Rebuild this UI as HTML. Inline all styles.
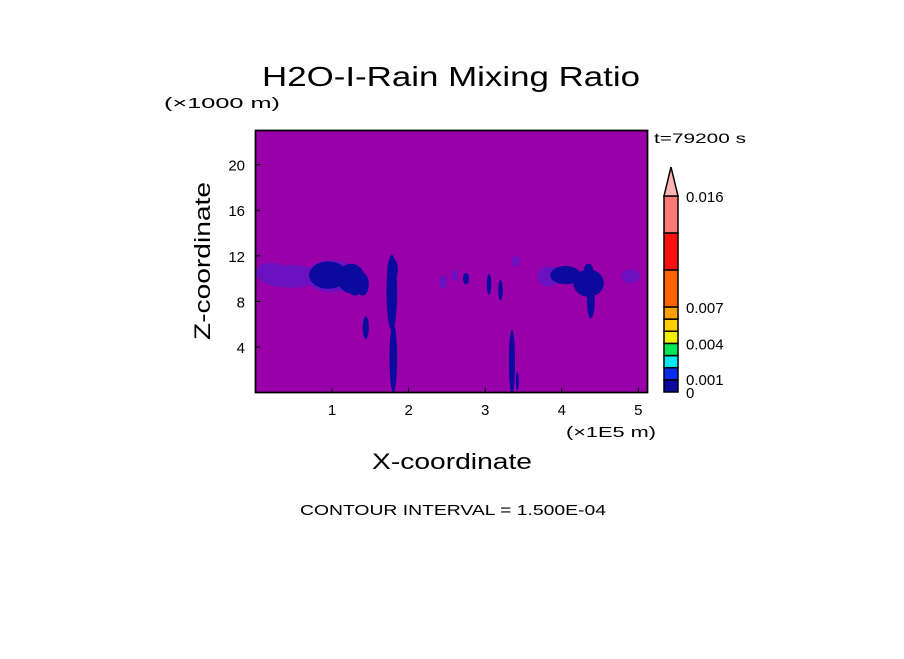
<!DOCTYPE html>
<html><head><meta charset="utf-8"><style>
body{margin:0;background:#fff;}
svg text{font-family:"Liberation Sans","DejaVu Sans",sans-serif;fill:#000;}
</style></head><body>
<svg width="904" height="654" viewBox="0 0 904 654" xmlns="http://www.w3.org/2000/svg">
<text x="262" y="86" font-size="28" textLength="378" lengthAdjust="spacingAndGlyphs">H2O-I-Rain Mixing Ratio</text>
<text x="164" y="108" font-size="15" textLength="116" lengthAdjust="spacingAndGlyphs">(×1000 m)</text>
<text x="654" y="143" font-size="14" textLength="92" lengthAdjust="spacingAndGlyphs">t=79200 s</text>
<rect x="255.5" y="130.5" width="392" height="262" fill="#9900aa" stroke="#000" stroke-width="1.5"/>
<g id="blobs"></g>
<rect x="255.5" y="130.5" width="392" height="262" fill="none" stroke="#000" stroke-width="1.5"/>
<g id="xt"></g>
<g id="yt"></g>
<text x="566" y="437" font-size="15" textLength="90" lengthAdjust="spacingAndGlyphs">(×1E5 m)</text>
<text x="372" y="469" font-size="22" textLength="160" lengthAdjust="spacingAndGlyphs">X-coordinate</text>
<text x="0" y="0" font-size="22" textLength="158" lengthAdjust="spacingAndGlyphs" transform="translate(210 340) rotate(-90)">Z-coordinate</text>
<text x="300" y="515" font-size="15" textLength="306" lengthAdjust="spacingAndGlyphs">CONTOUR INTERVAL = 1.500E-04</text>
<g id="cb"></g>
</svg>
<script>
const xTicks=[1,2,3,4,5];
const yTicks=[4,8,12,16,20];
const cbColors=["#0a0a9e","#0a2cf0","#00e8f0","#00e858","#f0f000","#ffd000","#ffa000","#ff6400","#ff1010","#ff7878"];
const cbEdges=[0,0.001,0.002,0.003,0.004,0.005,0.006,0.007,0.01,0.013,0.016];
const cbLabels=["0","0.001","0.004","0.007","0.016"];
const cbLabelVals=[0,0.001,0.004,0.007,0.016];
// blobs: x(1e5 m), z(km), rx, rz, level(0 light,1 dark)
const blobX=[0.45,1.0,0.2,0.95,1.25,1.4,1.78,1.8,1.44,3.35,3.42,2.45,2.75,3.05,3.2,3.83,4.05,4.35,4.38,4.35,4.9,1.05,1.3,2.6,3.4,1.79];
const blobZ=[10.2,10.2,10.5,10.3,10.0,9.5,8.8,3.0,5.7,2.7,1.0,9.7,10.0,9.5,9.0,10.2,10.3,9.6,8.0,10.8,10.2,10.5,9.5,10.3,11.5,10.8];
const blobRX=[0.4,0.35,0.2,0.25,0.18,0.08,0.07,0.05,0.04,0.04,0.02,0.05,0.04,0.03,0.03,0.15,0.2,0.2,0.05,0.06,0.12,0.12,0.1,0.04,0.05,0.07];
const blobRZ=[1.0,1.4,0.9,1.2,1.3,1.0,3.3,3.0,1.0,2.8,0.8,0.6,0.5,0.9,0.9,0.9,0.8,1.2,1.5,0.5,0.6,0.8,1.0,0.5,0.5,1.0];
const blobLvl=[0,0,0,1,1,1,1,1,1,1,1,0,1,1,1,0,1,1,1,1,0,1,1,0,0,1];
const X0=255.5,X1=647.5,Y0=392.5,Y1=130.5,XMAX=5.12,ZMAX=23;
const sx=v=>X0+v/XMAX*(X1-X0), sy=v=>Y0-v/ZMAX*(Y0-Y1), sw=v=>v/XMAX*(X1-X0), sh=v=>v/ZMAX*(Y0-Y1);
const NS="http://www.w3.org/2000/svg";
function mk(t,a,p){const e=document.createElementNS(NS,t);for(const k in a)e.setAttribute(k,a[k]);p.appendChild(e);return e;}
const bl=document.getElementById('blobs');
blobX.forEach((x,i)=>{
 const e=mk('ellipse',{cx:sx(x),cy:sy(blobZ[i]),rx:sw(blobRX[i]),ry:sh(blobRZ[i]),fill:blobLvl[i]?'#0a0a9e':'#6a10c0'},bl);
 
 
});
const xt=document.getElementById('xt');
xTicks.forEach(v=>{
 mk('line',{x1:sx(v),x2:sx(v),y1:Y0,y2:Y0-5,stroke:'#000'},xt);
 const t=mk('text',{x:sx(v),y:415,'font-size':15,'text-anchor':'middle'},xt);t.textContent=v;
 
 
});
const yt=document.getElementById('yt');
yTicks.forEach(v=>{
 mk('line',{x1:X0,x2:X0+5,y1:sy(v),y2:sy(v),stroke:'#000'},yt);
 const t=mk('text',{x:245,y:sy(v)+6,'font-size':15,'text-anchor':'end'},yt);t.textContent=v;
 
 
});
const cb=document.getElementById('cb');
const CB0=392,CX=664,CW=14;
const segH=i=>i<7?12.15:37;
function edgeY(i){let y=CB0;for(let k=0;k<i;k++)y-=segH(k);return y;}
const cy=v=>{for(let i=0;i<cbEdges.length-1;i++){if(v<=cbEdges[i+1]){return edgeY(i)-(v-cbEdges[i])/(cbEdges[i+1]-cbEdges[i])*segH(i);}}return edgeY(cbEdges.length-1);};
const CB1=cy(cbEdges[cbEdges.length-1]);
cbColors.forEach((c,i)=>{
 const r=mk('rect',{x:CX,y:cy(cbEdges[i+1]),width:CW,height:cy(cbEdges[i])-cy(cbEdges[i+1]),fill:c,stroke:'#000','stroke-width':1.5},cb);
 
 
});
const tri=mk('polygon',{points:`${CX},${CB1} ${CX+CW},${CB1} ${CX+CW/2},167`,fill:'#ffb4b4',stroke:'#000','stroke-width':1.5},cb);


cbLabels.forEach((l,i)=>{
 const yy=cy(cbLabelVals[i])+(i===0?6:i===1?5:6);
 const t=mk('text',{x:686,y:yy,'font-size':15},cb);t.textContent=l;
 
 
});
</script>
</body></html>
